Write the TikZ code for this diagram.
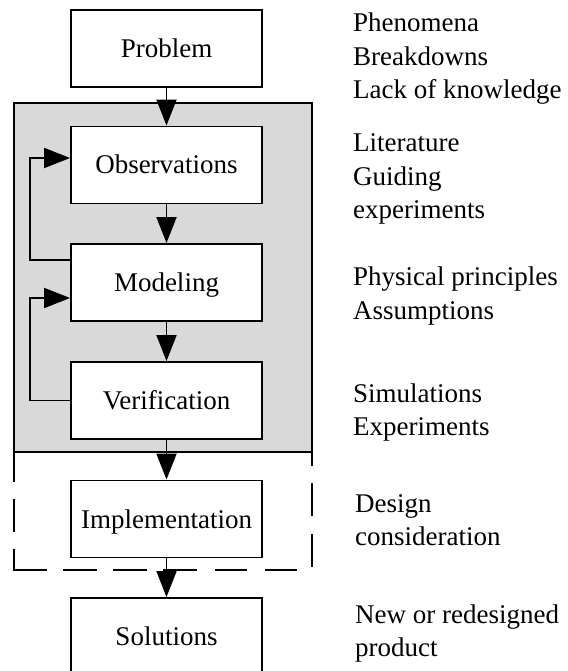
\documentclass[tikz,border=0pt]{standalone}
\usepackage{fontspec}
\setmainfont{Liberation Serif}
\usetikzlibrary{arrows.meta}
\begin{document}
\begin{tikzpicture}[x=1pt,y=-1pt,
  stage/.style={draw, line width=1.9pt, fill=white, minimum width=191pt, minimum height=77pt,
    inner sep=0pt, text height=18pt, text depth=0pt, font=\fontsize{27}{33}\selectfont},
  note/.style={anchor=base west, inner sep=0pt, font=\fontsize{27}{33}\selectfont},
  flow/.style={line width=1.9pt, -{Triangle[length=26pt,width=20pt]}},
  frame/.style={line width=1.9pt}
]
\useasboundingbox (0,0) rectangle (567,671);
% grey stage
\fill[black!15] (14,103) rectangle (312,452);
\draw[frame] (14,103) rectangle (312,452);
% dashed implementation frame
\draw[frame, dash pattern={on 30pt off 17pt on 33pt off 17pt on 54pt off 16pt on 34pt off 16pt on 34pt off 16pt on 34pt off 18pt on 32pt off 18pt on 32pt off 18pt on 33pt off 18pt on 33pt off 17pt on 14pt off 10pt}]
  (14,452) -- (14,570) -- (312,570) -- (312,452);
% boxes
\node[stage] (prob) at (166.5,48.5) {Problem};
\node[stage] (obs) at (166.5,165) {Observations};
\node[stage] (mod) at (166.5,282.5) {Modeling};
\node[stage] (ver) at (166.5,400.5) {Verification};
\node[stage] (imp) at (166.5,519) {Implementation};
\node[stage] (sol) at (166.5,636.5) {Solutions};
% main flow
\draw[flow] (prob) -- (obs);
\draw[flow] (obs) -- (mod);
\draw[flow] (mod) -- (ver);
\draw[flow] (ver) -- (imp);
\draw[flow] (imp) -- (sol);
% feedback loops
\draw[flow] ([yshift=22.5pt]mod.west) -- ++(-40,0) |- ([yshift=7pt]obs.west);
\draw[flow] (ver.west) -- ++(-40,0) |- ([yshift=-15.5pt]mod.west);
% notes
\node[note] (n1a) at (353,32) {Phenomena};
\node[note] (n1b) at (353,65.5) {Breakdowns};
\node[note] (n1c) at (353,99) {Lack of knowledge};
\node[note] (n2a) at (353,152) {Literature};
\node[note] (n2b) at (353,185) {Guiding};
\node[note] (n2c) at (353,218) {experiments};
\node[note] (n3a) at (353,285) {Physical principles};
\node[note] (n3b) at (353,319) {Assumptions};
\node[note] (n4a) at (353,402) {Simulations};
\node[note] (n4b) at (353,435) {Experiments};
\node[note] (n5a) at (355,512) {Design};
\node[note] (n5b) at (355,545.5) {consideration};
\node[note] (n6a) at (355,623) {New or redesigned};
\node[note] (n6b) at (355,656.5) {product};
\end{tikzpicture}
\end{document}
